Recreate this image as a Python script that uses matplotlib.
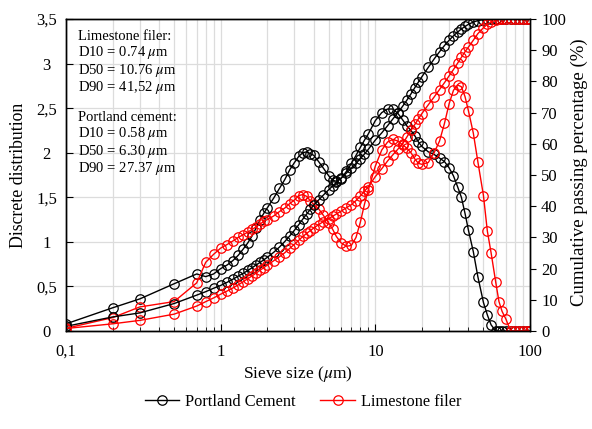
import matplotlib
matplotlib.use("Agg")
import matplotlib.pyplot as plt
from matplotlib.ticker import FixedLocator, LogLocator, NullFormatter, FuncFormatter

plt.rcParams["font.family"] = ["Liberation Serif", "DejaVu Serif"]
plt.rcParams["mathtext.fontset"] = "stix"

# -------------------------
# DATA
# -------------------------
sieve_size = [0.1, 0.2, 0.3, 0.5, 0.7, 0.8, 0.9, 1.0, 1.1, 1.2, 1.3, 1.4, 1.5, 1.6, 1.7,
              1.8, 1.9, 2.0, 2.2, 2.4, 2.6, 2.8, 3.0, 3.2, 3.4, 3.6, 3.8, 4.0, 4.3, 4.6,
              5.0, 5.3, 5.6, 6.0, 6.5, 7.0, 7.5, 8.0, 8.5, 9.0, 10, 11, 12, 13, 14,
              15, 16, 17, 18, 19, 20, 22, 24, 26, 28, 30, 32, 34, 36, 38,
              40, 43, 46, 50, 53, 56, 60, 63, 66, 70, 75, 80, 85, 90, 95, 100]

pc_discrete = [0.08, 0.26, 0.36, 0.53, 0.64, 0.61, 0.64, 0.70, 0.74, 0.79, 0.85, 0.92, 0.99, 1.07, 1.16,
               1.25, 1.32, 1.38, 1.49, 1.60, 1.70, 1.81, 1.89, 1.96, 2.00, 2.01, 1.99, 1.97, 1.90, 1.83,
               1.74, 1.69, 1.68, 1.71, 1.79, 1.88, 1.97, 2.06, 2.14, 2.21, 2.36, 2.45, 2.49, 2.49, 2.44,
               2.37, 2.30, 2.25, 2.19, 2.12, 2.07, 2.01, 1.98, 1.94, 1.90, 1.83, 1.74, 1.62, 1.50, 1.32,
               1.13, 0.89, 0.61, 0.32, 0.18, 0.07, 0, 0, 0, 0, 0, 0, 0, 0, 0, 0]

lf_discrete = [0.03, 0.15, 0.27, 0.33, 0.54, 0.77, 0.86, 0.93, 0.97, 1.01, 1.05, 1.08, 1.11, 1.14, 1.17,
               1.20, 1.23, 1.25, 1.29, 1.34, 1.38, 1.43, 1.47, 1.52, 1.53, 1.51, 1.46, 1.42, 1.37, 1.30,
               1.21, 1.14, 1.06, 0.99, 0.95, 0.96, 1.05, 1.22, 1.42, 1.58, 1.85, 2.03, 2.12, 2.15, 2.13,
               2.09, 2.05, 2.00, 1.93, 1.88, 1.87, 1.89, 2.00, 2.13, 2.33, 2.55, 2.70, 2.76, 2.74, 2.63,
               2.47, 2.22, 1.90, 1.52, 1.12, 0.88, 0.55, 0.33, 0.22, 0.13, 0, 0, 0, 0, 0, 0]

pc_cumulative = [1.5, 4.5, 5.8, 8.8, 11.5, 12.6, 13.7, 14.6, 15.6, 16.6, 17.6, 18.5, 19.4, 20.3, 21.2,
                 22.0, 22.8, 23.6, 25.2, 26.9, 28.7, 30.5, 32.3, 34.1, 35.9, 37.5, 39.0, 40.3, 42.0, 43.5,
                 45.3, 46.5, 47.6, 49.0, 50.6, 52.2, 53.7, 55.2, 56.7, 58.2, 61.2, 63.5, 65.8, 68.0, 70.0,
                 72.0, 74.0, 76.0, 78.0, 79.8, 81.5, 84.5, 87.2, 89.5, 91.5, 93.2, 94.6, 95.8, 96.8, 97.6,
                 98.3, 99.0, 99.5, 99.8, 99.95, 100, 100, 100, 100, 100, 100, 100, 100, 100, 100, 100]

lf_cumulative = [0.8, 2.3, 3.4, 5.4, 8.0, 9.4, 10.6, 11.8, 12.8, 13.8, 14.8, 15.8, 16.8, 17.7, 18.6,
                 19.5, 20.3, 21.1, 22.5, 23.8, 25.1, 26.5, 27.8, 29.1, 30.3, 31.3, 32.2, 33.0, 34.1, 35.0,
                 36.0, 36.8, 37.5, 38.4, 39.5, 40.5, 41.8, 43.3, 44.8, 46.2, 49.5, 52.0, 54.5, 56.5, 58.3,
                 60.0, 62.2, 64.3, 66.2, 68.0, 69.7, 72.5, 75.0, 77.4, 79.6, 81.8, 83.8, 85.8, 87.7, 89.5,
                 91.0, 93.2, 95.3, 97.2, 98.3, 99.0, 99.6, 99.85, 100, 100, 100, 100, 100, 100, 100, 100]

info_text = ("Limestone filer:\nD10 = 0.74 $\\mu$m\nD50 = 10.76 $\\mu$m\nD90 = 41,52 $\\mu$m\n\n"
             "Portland cement:\nD10 = 0.58 $\\mu$m\nD50 = 6.30 $\\mu$m\nD90 = 27.37 $\\mu$m")

# -------------------------
# PLOT
# -------------------------
W, H = 592, 429
fig = plt.figure(figsize=(W / 100, H / 100), dpi=100)
ax = fig.add_axes([66 / W, 1 - 331 / H, 464 / W, 312 / H])
ax2 = ax.twinx()

style = dict(marker="o", markersize=6.8, markerfacecolor="none", markeredgewidth=0.9, linewidth=1.0)

ax.plot(sieve_size, pc_discrete, color="black", label="Portland Cement", **style)
ax.plot(sieve_size, lf_discrete, color="red", label="Limestone filer", **style)
ax2.plot(sieve_size, pc_cumulative, color="black", **style)
ax2.plot(sieve_size, lf_cumulative, color="red", **style)

ax.set_xscale("log")
ax.set_xlim(0.1, 100)
ax.set_ylim(0, 3.5)
ax2.set_ylim(0, 100)

comma = FuncFormatter(lambda v, p: f"{v:g}".replace(".", ","))
ax.xaxis.set_major_locator(FixedLocator([0.1, 1, 10, 100]))
ax.xaxis.set_major_formatter(comma)
ax.xaxis.set_minor_locator(LogLocator(base=10, subs=range(2, 10)))
ax.xaxis.set_minor_formatter(NullFormatter())
ax.yaxis.set_major_locator(FixedLocator([0, 0.5, 1, 1.5, 2, 2.5, 3, 3.5]))
ax.yaxis.set_major_formatter(comma)
ax2.yaxis.set_major_locator(FixedLocator(range(0, 101, 10)))

ax.grid(True, which="both", axis="x", color="#dcdcdc", linewidth=0.9)
ax.grid(True, which="major", axis="y", color="#dcdcdc", linewidth=0.9)
ax.set_axisbelow(True)

ax.tick_params(axis="x", which="major", direction="in", length=5, labelsize=12, pad=9)
ax.tick_params(axis="x", which="minor", direction="in", length=3)
ax.tick_params(axis="y", direction="in", length=5, labelsize=12, pad=14)
ax2.tick_params(axis="y", direction="out", length=4, labelsize=12, pad=4)
for lab in ax.get_yticklabels():
    lab.set_horizontalalignment("center")

for a in (ax, ax2):
    for s in a.spines.values():
        s.set_color("black")
        s.set_linewidth(1.0)

ax.set_xlabel("Sieve size ($\\mu$m)", fontsize=12.5, labelpad=3)
fig.text(10 / W, 1 - 175 / H, "Discrete distribution", rotation=90,
         ha="left", va="center", fontsize=12.8)
fig.text(571 / W, 1 - 172 / H, "Cumulative passing percentage (%)", rotation=90,
         ha="left", va="center", fontsize=13.5)

ax.text(0.025, 0.965, info_text, transform=ax.transAxes, va="top", ha="left",
        fontsize=10.5, linespacing=1.07)

fig.legend(loc="center", bbox_to_anchor=(303 / W, 1 - 402 / H), ncol=2, frameon=False,
           fontsize=11.8, handlelength=2.1, handletextpad=0.35, columnspacing=1.5)

fig.savefig("out.png", dpi=100)
plt.close(fig)
